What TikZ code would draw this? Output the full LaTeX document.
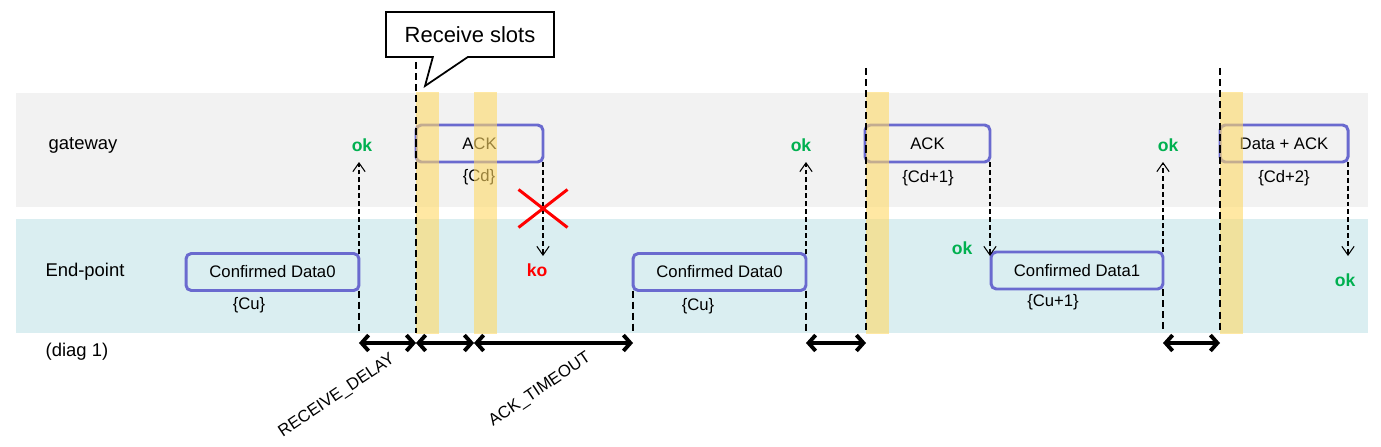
\documentclass[tikz,border=0pt]{standalone}
\usepackage{fontspec}
\setmainfont{Liberation Sans}
\usetikzlibrary{arrows.meta,shapes.callouts,shapes.misc}
\definecolor{bandgray}{HTML}{F2F2F2}
\definecolor{bandteal}{HTML}{DAEEF1}
\definecolor{slotyellow}{HTML}{FFD966}
\definecolor{msgblue}{HTML}{6A6ACF}
\definecolor{okgreen}{HTML}{00B050}
\begin{document}
\begin{tikzpicture}[x=0.02cm, y=-0.02cm,
	msg/.style={draw=msgblue, line width=1.7pt, rounded corners=3pt, inner sep=0pt, outer sep=0pt, minimum height=0.74cm, font=\fontsize{9.5}{11}\selectfont},
	tag/.style={font=\fontsize{9.5}{11}\selectfont},
	lane/.style={font=\fontsize{10.5}{12}\selectfont},
	ok/.style={text=okgreen, font=\fontsize{10}{12}\selectfont\bfseries},
	ko/.style={text=red, font=\fontsize{10}{12}\selectfont\bfseries},
	slot/.style={fill=slotyellow, fill opacity=0.6},
	slotline/.style={line width=1.1pt, dash pattern=on 4pt off 2.3pt},
	hop/.style={line width=0.6pt, dash pattern=on 2.8pt off 1.7pt, -{Straight Barb[length=5pt,width=7pt]}},
	span/.style={line width=2.2pt, {Straight Barb[length=4pt,width=9pt]}-{Straight Barb[length=4pt,width=9pt]}}]
		\useasboundingbox (0,0) rectangle (1381,446);
		% lanes
		\fill[bandgray] (16,93) rectangle (1368,207);
		\fill[bandteal] (16,219) rectangle (1368,333);
		\node[lane] (gw) at (83,145) {gateway};
		\node[lane] (ep) at (85,272) {End-point};
		\node[lane] (diag) at (77,352) {(diag 1)};
		\coordinate (s1) at (416,62);
		\coordinate (s2) at (866,68);
		\coordinate (s3) at (1220,68);
		\coordinate (rx2) at (474,0);
		\coordinate (top) at (0,162);
		\coordinate (low) at (0,256);
		\coordinate (base) at (0,333);
		\coordinate (dim) at (0,343);
		\coordinate (rxtip) at (425,86);
		% messages
		\node[msg, minimum width=3.46cm] (d0a) at (272.5,272) {Confirmed Data0};
		\node[msg, minimum width=2.54cm] (ack1) at (479.5,143.5) {ACK};
		\node[msg, minimum width=3.46cm] (d0b) at (719.5,272) {Confirmed Data0};
		\node[msg, minimum width=2.5cm] (ack2) at (927.5,143.5) {ACK};
		\node[msg, minimum width=3.44cm] (d1) at (1077,270.5) {Confirmed Data1};
		\node[msg, minimum width=2.56cm] (dack) at (1284,143.5) {Data + ACK};
		\node[tag] (cu0) at (249,305) {\{Cu\}};
		\node[tag] (cd0) at (479,177) {\{Cd\}};
		\node[tag] (cu1) at (698,306) {\{Cu\}};
		\node[tag] (cd1) at (928,178) {\{Cd+1\}};
		\node[tag] (cu2) at (1053,302) {\{Cu+1\}};
		\node[tag] (cd2) at (1284,178) {\{Cd+2\}};
		% replies
		\node[ok] (ok1) at (362,145) {ok};
		\node[ko] (ko1) at (537,270) {ko};
		\node[ok] (ok2) at (801,145) {ok};
		\node[ok] (ok3) at (962,248) {ok};
		\node[ok] (ok4) at (1168,145) {ok};
		\node[ok] (ok5) at (1345,280) {ok};
		\draw[hop] (d0a.north east) -- (d0a.north east |- top);
		\draw[hop] (ack1.south east) -- (ack1.south east |- low);
		\draw[hop] (d0b.north east) -- (d0b.north east |- top);
		\draw[hop] (ack2.south east) -- (ack2.south east |- low);
		\draw[hop] (d1.north east) -- (d1.north east |- top);
		\draw[hop] (dack.south east) -- (dack.south east |- low);
		\node[cross out, draw=red, line width=1.7pt, minimum width=0.92cm, minimum height=0.7cm, inner sep=0pt] (lost) at (543,208.5) {};
		% receive slots
		\fill[slot] (416,92) rectangle (439,334);
		\fill[slot] (474,92) rectangle (497,334);
		\fill[slot] (866,92) rectangle (889,334);
		\fill[slot] (1220,92) rectangle (1243,334);
		\draw[slotline] (s1) -- (s1 |- base);
		\draw[slotline] (s2) -- (s2 |- base);
		\draw[slotline] (s3) -- (s3 |- base);
		\draw[slotline] (d0a.south east) -- (d0a.south east |- base);
		\draw[slotline] (d0b.south west) -- (d0b.south west |- base);
		\draw[slotline] (d0b.south east) -- (d0b.south east |- base);
		\draw[slotline] (d1.south east) -- (d1.south east |- base);
		\node[rectangle callout, draw, fill=white, line width=1pt, minimum width=3.36cm, minimum height=0.9cm, callout absolute pointer=(rxtip), callout pointer width=0.7cm, font=\fontsize{12.5}{14}\selectfont] (rslots) at (470,34.5) {Receive slots};
		% delays
		\draw[span] (d0a.south east |- dim) -- (s1 |- dim);
		\draw[span] (s1 |- dim) -- (rx2 |- dim);
		\draw[span] (rx2 |- dim) -- (d0b.south west |- dim);
		\draw[span] (d0b.south east |- dim) -- (s2 |- dim);
		\draw[span] (d1.south east |- dim) -- (s3 |- dim);
		\node[tag, rotate=34] (rxd) at (337,396) {RECEIVE\_DELAY};
		\node[tag, rotate=34] (ackt) at (540,390) {ACK\_TIMEOUT};
	\end{tikzpicture}
\end{document}
